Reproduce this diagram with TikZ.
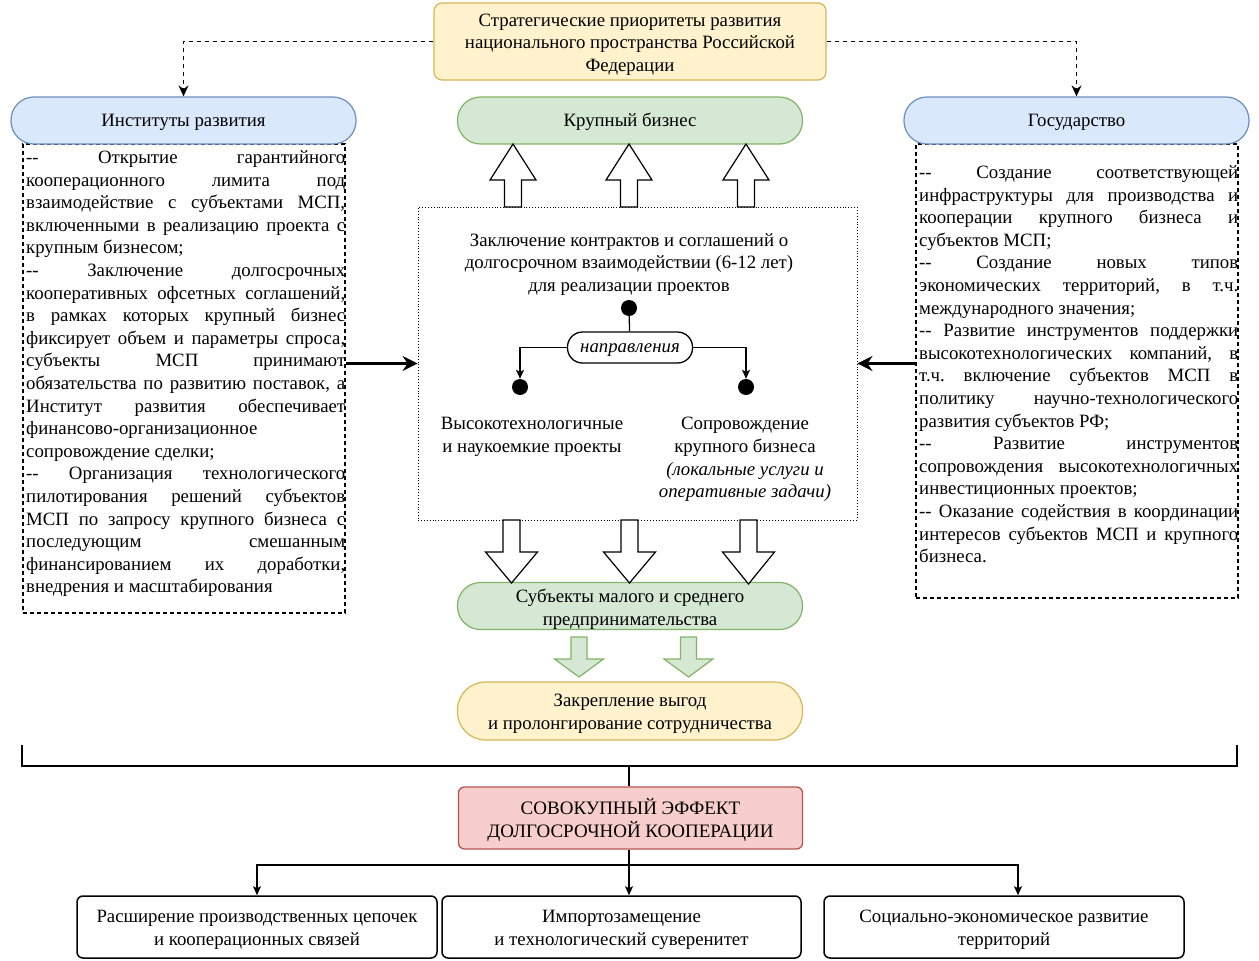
\documentclass[tikz,border=0pt]{standalone}
\usepackage{fontspec}
\setmainfont{Liberation Serif}
\usetikzlibrary{arrows.meta,calc}
\frenchspacing
\definecolor{yfill}{HTML}{FFF2CC}\definecolor{ydraw}{HTML}{D6B656}
\definecolor{gfill}{HTML}{D5E8D4}\definecolor{gdraw}{HTML}{82B366}
\definecolor{bfill}{HTML}{DAE8FC}\definecolor{bdraw}{HTML}{6C8EBF}
\definecolor{rfill}{HTML}{F8CECC}\definecolor{rdraw}{HTML}{B85450}
\newlength\tw \setlength\tw{319pt}
\newcommand\jline[1]{\makebox[\tw][s]{#1}}
\newcommand\lline[1]{\makebox[\tw][l]{#1}}
\newcommand\blkarrow[7]{\draw[#1] (#2-#6,#3) -- (#2+#6,#3) -- (#2+#6,#4) -- (#2+#7,#4) -- (#2,#5) -- (#2-#7,#4) -- (#2-#6,#4) -- cycle;}
\tikzset{
  pill/.style={draw, line width=1.2pt, rounded corners=23pt, minimum width=345pt, minimum height=47pt, inner sep=0pt},
  bluepill/.style={pill, fill=bfill, draw=bdraw},
  greenpill/.style={pill, fill=gfill, draw=gdraw},
  yellowpill/.style={pill, fill=yfill, draw=ydraw},
  lbl/.style={align=center, inner sep=0pt},
  txtbox/.style={draw, line width=1.1pt, dash pattern=on 4pt off 3pt, inner sep=0pt},
  txt/.style={align=left, inner sep=0pt, anchor=north west},
  dasharrow/.style={line width=1.5pt, dash pattern=on 4.5pt off 3.5pt, -{Stealth[length=11pt,width=10pt]}},
  thickarrow/.style={line width=2.5pt, -{Stealth[length=15pt,width=15pt,inset=5pt]}},
  thinarrow/.style={line width=1.3pt, -{Stealth[length=9pt,width=8pt,inset=2pt]}},
  hollow/.style={draw=black, fill=white, line width=1.2pt, line join=miter},
  greenarr/.style={draw=gdraw, fill=gfill, line width=1.2pt, line join=miter},
  dot/.style={circle, fill=black, inner sep=0pt, minimum size=16pt},
  resbox/.style={draw, line width=1.5pt, rounded corners=6pt, fill=white, minimum width=360pt, minimum height=62pt, inner sep=0pt},
}
\begin{document}
\begin{tikzpicture}[x=1pt,y=-1pt, font=\fontsize{18.8}{22.6}\selectfont]
\useasboundingbox (0,0) rectangle (1259,961);

% top box
\node[draw=ydraw, fill=yfill, line width=1.2pt, rounded corners=8pt, minimum width=392pt, minimum height=77pt, inner sep=0pt] (top) at (630,41.5) {};
\node[lbl] (top-t) at ($(top)+(0,3)$) {Стратегические приоритеты развития\\национального пространства Российской\\Федерации};

% text boxes
\node[txtbox, minimum width=322pt, minimum height=469pt] (lbox) at (184,378.5) {};
\node[txtbox, minimum width=322pt, minimum height=454pt] (rbox) at (1077,371) {};

\node[txt] (ltext) at (26,150.5) {%
\jline{-{}- Открытие гарантийного}\\
\jline{кооперационного лимита под}\\
\jline{взаимодействие с субъектами МСП,}\\
\jline{включенными в реализацию проекта с}\\
\lline{крупным бизнесом;}\\
\jline{-{}- Заключение долгосрочных}\\
\jline{кооперативных офсетных соглашений,}\\
\jline{в рамках которых крупный бизнес}\\
\jline{фиксирует объем и параметры спроса,}\\
\jline{субъекты МСП принимают}\\
\jline{обязательства по развитию поставок, а}\\
\jline{Институт развития обеспечивает}\\
\lline{финансово-организационное}\\
\lline{сопровождение сделки;}\\
\jline{-{}- Организация технологического}\\
\jline{пилотирования решений субъектов}\\
\jline{МСП по запросу крупного бизнеса с}\\
\jline{последующим смешанным}\\
\jline{финансированием их доработки,}\\
\lline{внедрения и масштабирования}};

\node[txt] (rtext) at (919,165.5) {%
\jline{-{}- Создание соответствующей}\\
\jline{инфраструктуры для производства и}\\
\jline{кооперации крупного бизнеса и}\\
\lline{субъектов МСП;}\\
\jline{-{}- Создание новых типов}\\
\jline{экономических территорий, в т.ч.}\\
\lline{международного значения;}\\
\jline{-{}- Развитие инструментов поддержки}\\
\jline{высокотехнологических компаний, в}\\
\jline{т.ч. включение субъектов МСП в}\\
\jline{политику научно-технологического}\\
\lline{развития субъектов РФ;}\\
\jline{-{}- Развитие инструментов}\\
\jline{сопровождения высокотехнологичных}\\
\lline{инвестиционных проектов;}\\
\jline{-{}- Оказание содействия в координации}\\
\jline{интересов субъектов МСП и крупного}\\
\lline{бизнеса.}};

% pills
\node[bluepill] (inst) at (183.5,120.5) {};
\node[lbl] (inst-t) at ($(inst)+(0,2)$) {Институты развития};
\node[greenpill] (big) at (630,120.5) {};
\node[lbl] (big-t) at ($(big)+(0,1.5)$) {Крупный бизнес};
\node[bluepill] (gos) at (1076.5,120.5) {};
\node[lbl] (gos-t) at ($(gos)+(0,2)$) {Государство};

\draw[dasharrow] (top.west) -| (inst.north);
\draw[dasharrow] (top.east) -| (gos.north);

% center box
\node[draw, dotted, line width=0.9pt, minimum width=439pt, minimum height=313pt, inner sep=0pt] (cbox) at (637.5,363.5) {};
\node[lbl] (ctext) at (629,264.5) {Заключение контрактов и соглашений о\\долгосрочном взаимодействии (6-12 лет)\\для реализации проектов};
\node[dot] (d0) at (629,308) {};
\node[draw, line width=1.3pt, rounded corners=15pt, minimum width=125pt, minimum height=31pt, inner sep=0pt, fill=white] (dir) at (630,347.5) {};
\node[lbl, font=\fontsize{18.8}{22.6}\selectfont\itshape] (dir-t) at ($(dir)+(0,3)$) {направления};
\draw[line width=1.3pt] (d0) -- (dir);
\node[dot] (d1) at (520,387) {};
\node[dot] (d2) at (746,387) {};
\draw[thinarrow] (dir.west) -| (d1);
\draw[thinarrow] (dir.east) -| (d2);
\node[lbl] (hi) at (532,437) {Высокотехнологичные\\и наукоемкие проекты};
\node[lbl] (sup) at (745,459.5) {Сопровождение\\крупного бизнеса\\{\itshape (локальные услуги и}\\{\itshape оперативные задачи)}};

\draw[thickarrow] (lbox.east |- cbox.west) -- (cbox.west);
\draw[thickarrow] (rbox.west |- cbox.east) -- (cbox.east);

% hollow arrows up
\blkarrow{hollow}{513}{207}{180}{144}{8.5}{23}
\blkarrow{hollow}{629}{207}{180}{144}{8.5}{23}
\blkarrow{hollow}{746}{207}{180}{144}{8.5}{23}

% SME
\node[greenpill] (sme) at (630,606) {};
\node[lbl] (sme-t) at ($(sme)+(0,3)$) {Субъекты малого и среднего\\предпринимательства};
% hollow arrows down
\blkarrow{hollow}{511.5}{520}{552}{583}{8.5}{26}
\blkarrow{hollow}{629.5}{520}{552}{583}{8.5}{26}
\blkarrow{hollow}{748.5}{520}{552}{584}{8.5}{26}

% green arrows
\blkarrow{greenarr}{579}{637}{659}{677}{8}{24.5}
\blkarrow{greenarr}{688.5}{637}{659}{677}{8}{24.5}

\node[yellowpill, minimum height=58pt, rounded corners=28pt] (fix) at (630,711) {};
\node[lbl] (fix-t) at ($(fix)+(0,3)$) {Закрепление выгод\\и пролонгирование сотрудничества};

% bracket
\coordinate (bl) at (22,745);
\coordinate (br) at (1237,745);
\coordinate (bm) at (629,766);
\draw[line width=2.6pt, line join=miter] (bl) -- (bl |- bm) -- (br |- bm) -- (br);

\node[draw=rdraw, fill=rfill, line width=1.3pt, rounded corners=6pt, minimum width=344pt, minimum height=62pt, inner sep=0pt] (sov) at (630.5,818) {};
\node[lbl, font=\fontsize{19}{23}\selectfont] (sov-t) at ($(sov)+(0,1.5)$) {СОВОКУПНЫЙ ЭФФЕКТ\\ДОЛГОСРОЧНОЙ КООПЕРАЦИИ};
\draw[line width=2.2pt] (bm) -- (bm |- sov.north);

\node[resbox] (b1) at (257,927) {};
\node[lbl] (b1-t) at ($(b1)+(0,3)$) {Расширение производственных цепочек\\и кооперационных связей};
\node[resbox, minimum width=359pt] (b2) at (621.5,927) {};
\node[lbl] (b2-t) at ($(b2)+(0,3)$) {Импортозамещение\\и технологический суверенитет};
\node[resbox] (b3) at (1004,927) {};
\node[lbl] (b3-t) at ($(b3)+(0,3)$) {Социально-экономическое развитие\\территорий};

\coordinate (j) at (629,865);
\draw[line width=1.3pt] (sov.south -| j) -- (j);
\draw[thinarrow] (j) -- (j |- b2.north);
\draw[thinarrow] (j) -| (b1.north);
\draw[thinarrow] (j) -| ($(b3.north)+(14,0)$);
\end{tikzpicture}
\end{document}
